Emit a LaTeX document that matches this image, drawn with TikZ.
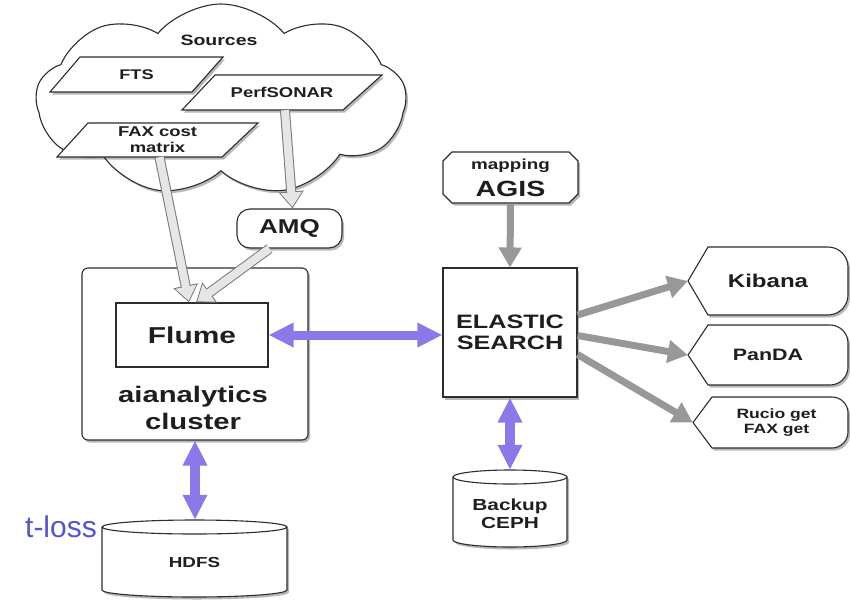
\documentclass[tikz,border=0pt]{standalone}
\usepackage{fontspec}
\newfontfamily\hv[FakeStretch=1.3]{Liberation Sans}
\newfontfamily\hvn{Liberation Sans}
\usetikzlibrary{arrows.meta,shapes.symbols,shadows,calc}
\definecolor{edge}{RGB}{45,45,45}
\definecolor{purp}{RGB}{138,122,232}
\definecolor{arrgray}{RGB}{152,152,152}
\definecolor{holl}{RGB}{120,120,120}
\definecolor{hollfill}{RGB}{230,230,230}
\definecolor{tblue}{RGB}{85,85,200}
\definecolor{ink}{RGB}{30,30,30}
\newcommand\hollowarrow[2]{%
  \draw[draw=holl, line width=10pt, -{Triangle[length=17pt,width=24pt]}] #1 -- #2;
  \draw[draw=hollfill, line width=8pt, shorten >=1.7pt, -{Triangle[length=14.3pt,width=20.5pt]}] #1 -- #2;}
\tikzset{
  shad/.style={drop shadow={shadow xshift=2pt,shadow yshift=-2.5pt,opacity=0.28,fill=black}},
  box/.style={draw=edge, line width=1.1pt, fill=white, shad},
  txt/.style={align=center, inner sep=0pt, text=ink},
  fs/.style 2 args={font=\hv\bfseries\fontsize{#1}{#2}\selectfont},
  grayarr/.style={draw=arrgray, line width=7pt, -{Triangle[length=20pt,width=22pt]}},
  purparr/.style={draw=purp, line width=#1, {Triangle[length=25pt,width=23pt]}-{Triangle[length=25pt,width=23pt]}},
}
\begin{document}
\begin{tikzpicture}[x=1pt,y=-1pt]
\useasboundingbox (0,0) rectangle (850,605);
\fill[white] (0,0) rectangle (850,605);

% ---------- shapes ----------
\node[cloud, cloud puffs=9, cloud puff arc=100, cloud ignores aspect, draw=edge, line width=1.1pt, fill=white, shad, minimum width=370pt, minimum height=192pt, inner sep=0pt] (cloud) at (221,100) {};

\draw[box] (50,92) -- (80,57) -- (223,57) -- (192,92) -- cycle;
\draw[box] (182,110) -- (215,75) -- (382,75) -- (343,110) -- cycle;
\draw[box] (57,157) -- (88,123) -- (258,123) -- (222,157) -- cycle;

\draw[box] (452,152) -- (569,152) -- (578,161) -- (578,194) -- (569,203) -- (452,203) -- (443,194) -- (443,161) -- cycle;

\draw[box] (688,281) -- (708,247) -- (828,247) arc[start angle=90,end angle=0,radius=20pt] -- (848,295) arc[start angle=0,end angle=-90,radius=20pt] -- (708,315) -- cycle;
\draw[box] (688,355) -- (708,325) -- (830,325) arc[start angle=90,end angle=0,radius=18pt] -- (848,367) arc[start angle=0,end angle=-90,radius=18pt] -- (708,385) -- cycle;
\draw[box] (693,422.5) -- (712,397) -- (832,397) arc[start angle=90,end angle=0,radius=16pt] -- (848,432) arc[start angle=0,end angle=-90,radius=16pt] -- (712,448) -- cycle;

\draw[box] (102,527) -- (102,590) arc[start angle=180,end angle=360,x radius=92.5pt,y radius=7pt] -- (287,527) arc[start angle=0,end angle=180,x radius=92.5pt,y radius=7pt] -- cycle;
\draw[draw=edge, line width=1.1pt] (102,527) arc[start angle=180,end angle=360,x radius=92.5pt,y radius=7pt];
\draw[box] (453,477) -- (453,540) arc[start angle=180,end angle=360,x radius=57pt,y radius=7pt] -- (567,477) arc[start angle=0,end angle=180,x radius=57pt,y radius=7pt] -- cycle;
\draw[draw=edge, line width=1.1pt] (453,477) arc[start angle=180,end angle=360,x radius=57pt,y radius=7pt];

% ---------- nodes ----------
\node[txt, fs={15pt}{17pt}] (sources) at (219,40) {Sources};
\node[txt, fs={14pt}{16pt}, minimum width=173pt, minimum height=35pt] (fts) at (136.5,74.5) {FTS};
\node[txt, fs={14.2pt}{16pt}, minimum width=200pt, minimum height=35pt] (perf) at (282,92.5) {PerfSONAR};
\node[txt, fs={14.2pt}{16pt}, minimum width=201pt, minimum height=34pt] (fax) at (157.5,140) {FAX cost\\matrix};

\node[txt, box, rounded corners=13pt, fs={20pt}{22pt}, minimum width=105pt, minimum height=39pt] (amq) at (289.5,228.5) {AMQ};

\node[box, rounded corners=6pt, minimum width=226pt, minimum height=172pt] (cluster) at (195,354) {};
\node[txt, draw=edge, line width=1.1pt, fill=white, fs={23pt}{26pt}, minimum width=152pt, minimum height=64pt] (flume) at (192,335) {Flume};
\node[txt, fs={22.5pt}{27pt}] (clusterlbl) at (193,408) {aianalytics\\cluster};

\node[txt, fs={14.5pt}{16pt}, minimum width=185pt, minimum height=70pt] (hdfs) at (194.5,562) {HDFS};
\node[txt, font=\hvn\fontsize{30pt}{32pt}\selectfont, text=tblue] (tloss) at (61,527) {t-loss};

\node[txt, box, fs={19.4pt}{21pt}, minimum width=134pt, minimum height=129pt] (es) at (510,332.5) {ELASTIC\\SEARCH};
\node[txt, fs={14.5pt}{17pt}, minimum width=135pt, minimum height=51pt] (agis) at (510.5,178) {mapping\\[8pt]{\fontsize{22pt}{24pt}\selectfont AGIS}};

\node[txt, fs={18.5pt}{20pt}, minimum width=160pt, minimum height=68pt] (kib) at (768,281) {Kibana};
\node[txt, fs={16.5pt}{18pt}, minimum width=160pt, minimum height=60pt] (panda) at (768,355) {PanDA};
\node[txt, fs={13.5pt}{15pt}, minimum width=155pt, minimum height=51pt] (rucio) at (770.5,422.5) {\hspace*{12pt}Rucio get\\\hspace*{12pt}FAX get};

\node[txt, fs={16pt}{18pt}, minimum width=114pt, minimum height=74pt] (ceph) at (510,514) {Backup\\CEPH};

% ---------- connectors ----------
\hollowarrow{([xshift=3pt]perf.south)}{([xshift=3pt]amq.north)}
\hollowarrow{([xshift=2pt]fax.south)}{([xshift=-3pt]flume.north)}
\hollowarrow{([xshift=-20pt]amq.south)}{([xshift=4pt]flume.north)}

\draw[grayarr] (agis.south) -- (es.north);
\draw[grayarr] ([yshift=17.5pt]es.east) -- (kib.west);
\draw[grayarr] ([yshift=-3pt]es.east) -- (panda.west);
\draw[grayarr] ([yshift=-22pt]es.east) -- (rucio.west);

\draw[purparr=9pt] (flume.east) -- (flume.east -| es.west);
\draw[purparr=10pt] (cluster.south) -- ([yshift=7pt]cluster.south |- hdfs.north);
\draw[purparr=10pt] (es.south) -- ([yshift=7pt]ceph.north);
\end{tikzpicture}
\end{document}
